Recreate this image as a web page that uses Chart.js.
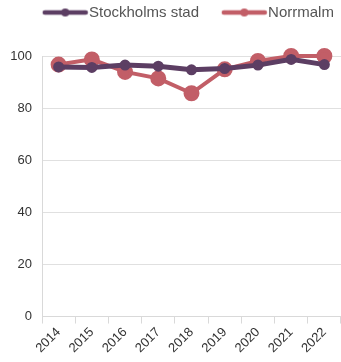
<!DOCTYPE html>
<html>
<head>
<meta charset="utf-8">
<script src="https://cdn.jsdelivr.net/npm/chart.js@4/dist/chart.umd.min.js"></script>
<style>
  html, body { margin: 0; padding: 0; background: #fff; }
  #wrap { width: 341px; height: 362px; }
</style>
</head>
<body>
<div id="wrap"><canvas id="trendChart"></canvas></div>
<script>
const years = ['2014', '2015', '2016', '2017', '2018', '2019', '2020', '2021', '2022'];
const stockholmValues = [95.8, 95.6, 96.5, 96.1, 94.7, 95.2, 96.5, 98.7, 96.7];
const norrmalmValues = [96.7, 98.7, 93.9, 91.4, 85.7, 94.9, 98.1, 100, 100];
const yTicks = [0, 20, 40, 60, 80, 100];

const stockholmColor = '#5c3e63';
const norrmalmColor = '#c25e67';
const fontFamily = 'Liberation Sans, Arial, sans-serif';

// legend marker: a short thick line with a dot in the middle,
// drawn towards the right so it sits right before the label text
function legendMarker(color) {
    const c = document.createElement('canvas');
    c.width = 56;
    c.height = 12;
    const g = c.getContext('2d');
    g.strokeStyle = color;
    g.lineWidth = 4.5;
    g.lineCap = 'round';
    g.beginPath();
    g.moveTo(12, 6);
    g.lineTo(53, 6);
    g.stroke();
    g.fillStyle = color;
    g.beginPath();
    g.arc(32.5, 6, 4, 0, Math.PI * 2);
    g.fill();
    return c;
}

const markers = [legendMarker(stockholmColor), legendMarker(norrmalmColor)];

// keeps the legend high up and leaves a gap above the plot
const legendPlacement = {
    id: 'legendPlacement',
    beforeInit(chart) {
        const fit = chart.legend.fit;
        chart.legend.fit = function () {
            fit.call(this);
            this.height = 56;
        };
    },
    afterLayout(chart) {
        chart.legend.left += 20;
        chart.legend.right += 20;
        chart.legend.top -= 15;
    }
};

const ctx = document.getElementById('trendChart').getContext('2d');
new Chart(ctx, {
    type: 'line',
    data: {
        labels: years,
        datasets: [{
            label: 'Stockholms stad',
            data: stockholmValues,
            borderColor: stockholmColor,
            backgroundColor: stockholmColor,
            borderWidth: 5,
            pointRadius: 3,
            pointHoverRadius: 3,
            tension: 0,
            clip: false
        }, {
            label: 'Norrmalm',
            data: norrmalmValues,
            borderColor: norrmalmColor,
            backgroundColor: norrmalmColor,
            borderWidth: 4,
            pointRadius: 6,
            pointHoverRadius: 6,
            tension: 0,
            clip: false
        }]
    },
    plugins: [legendPlacement],
    options: {
        responsive: true,
        maintainAspectRatio: false,
        animation: false,
        layout: { autoPadding: false, padding: { top: 0, right: 0, left: 0, bottom: 5 } },
        plugins: {
            tooltip: { enabled: false },
            legend: {
                position: 'top',
                align: 'start',
                labels: {
                    usePointStyle: true,
                    pointStyleWidth: 41.5,
                    color: '#555',
                    font: { family: fontFamily, size: 15 },
                    padding: 20,
                    generateLabels: (chart) => chart.data.datasets.map((ds, i) => ({
                        text: ds.label,
                        pointStyle: markers[i],
                        fontColor: '#555',
                        datasetIndex: i,
                        hidden: false,
                        lineWidth: 0
                    }))
                }
            }
        },
        scales: {
            x: {
                offset: true,
                afterFit: (axis) => { axis.paddingRight = 0; },
                grid: {
                    display: true,
                    drawOnChartArea: false,
                    drawTicks: true,
                    tickLength: 7,
                    color: '#d9d9d9',
                    offset: true
                },
                border: { color: '#d9d9d9', width: 1 },
                ticks: {
                    color: '#333',
                    font: { family: fontFamily, size: 13 },
                    minRotation: 45,
                    maxRotation: 45,
                    autoSkip: false,
                    padding: 1
                }
            },
            y: {
                min: 0,
                max: 100,
                afterBuildTicks: (axis) => { axis.ticks = yTicks.map(v => ({ value: v })); },
                afterFit: (axis) => { axis.width = 42; },
                grid: {
                    color: '#e0e0e0',
                    drawTicks: false
                },
                border: { color: '#d9d9d9', width: 1 },
                ticks: {
                    color: '#333',
                    font: { family: fontFamily, size: 13 },
                    padding: 10
                }
            }
        }
    }
});
</script>
</body>
</html>
